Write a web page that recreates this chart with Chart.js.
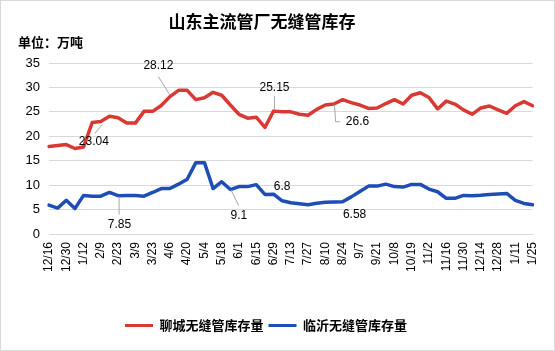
<!DOCTYPE html>
<html>
<head>
<meta charset="utf-8">
<script src="https://cdn.jsdelivr.net/npm/chart.js@4.4.1/dist/chart.umd.min.js"></script>
<style>
  html, body { margin: 0; padding: 0; background: #fff; }
  canvas { display: block; }
</style>
</head>
<body>
<canvas id="c" width="555" height="351"></canvas>
<script>
// ---- data ----
const chartTitle = "山东主流管厂无缝管库存";
const unitText = "单位：万吨";
const categories = [
  "12/16","12/23","12/30","1/6","1/12","1/19","2/9","2/16","2/23","3/2",
  "3/9","3/16","3/23","3/30","4/6","4/13","4/20","4/27","5/4","5/11",
  "5/18","5/25","6/1","6/8","6/15","6/22","6/29","7/6","7/13","7/20",
  "7/27","8/3","8/10","8/17","8/24","8/31","9/7","9/14","9/21","9/28",
  "10/8","10/12","10/19","10/26","11/2","11/9","11/16","11/23","11/30","12/7",
  "12/14","12/21","12/28","1/4","1/11","1/18","1/25"
];
const seriesNames = ["聊城无缝管库存量", "临沂无缝管库存量"];
const liaocheng = [
  17.9,18.1,18.3,17.5,17.8,22.8,23.04,24.1,23.8,22.7,
  22.7,25.1,25.1,26.3,28.12,29.4,29.4,27.5,27.9,29.0,
  28.4,26.4,24.5,23.7,23.9,21.8,25.15,25.0,25.0,24.5,
  24.3,25.5,26.4,26.6,27.5,26.9,26.4,25.7,25.8,26.7,
  27.5,26.6,28.4,28.9,27.95,25.6,27.2,26.6,25.4,24.5,
  25.8,26.2,25.4,24.7,26.25,27.1,26.25
];
const linyi = [
  5.9,5.3,6.9,5.2,7.9,7.75,7.75,8.5,7.85,7.9,
  7.9,7.75,8.5,9.3,9.3,10.2,11.2,14.6,14.6,9.3,
  10.7,9.1,9.7,9.7,10.1,8.1,8.15,6.8,6.4,6.2,
  6.0,6.3,6.5,6.55,6.58,7.6,8.7,9.8,9.8,10.2,
  9.7,9.6,10.15,10.15,9.2,8.65,7.3,7.3,7.9,7.85,
  7.95,8.1,8.2,8.3,6.9,6.25,6.0
];
const yTicks = [0, 5, 10, 15, 20, 25, 30, 35];

// labelled points: dataset index, point index (text comes from the data)
const labelledPoints = [
  {ds: 0, i: 6}, {ds: 0, i: 14}, {ds: 0, i: 26}, {ds: 0, i: 33},
  {ds: 1, i: 8}, {ds: 1, i: 21}, {ds: 1, i: 27}, {ds: 1, i: 34}
];
// placement of those labels relative to the point (pixels)
const labelPlacement = [
  {dx: -7, dy: 20, leader: [[-6, 12], [1.5, 3]]},
  {dx: -11.5, dy: -30.5, leader: [[-11.5, -20], [0, -1.5]]},
  {dx: 1, dy: -23, leader: [[1, -15], [1, -1]]},
  {dx: 23.5, dy: 17.7, leader: [[0.5, 0.5], [1.6, 17.7], [6, 17.7]]},
  {dx: 1.4, dy: 29.5, leader: [[1, 1], [1, 19]]},
  {dx: 8.5, dy: 26, leader: [[0.7, 0.5], [8.3, 16]]},
  {dx: 0, dy: -14, leader: null},
  {dx: 12, dy: 12.5, leader: null}
];

const RED = '#DA3832';
const BLUE = '#1D4EB5';
const PAD_BOTTOM = 9;

const frame = {
  id: 'frame',
  beforeDraw(chart) {
    const ctx = chart.ctx;
    ctx.save();
    ctx.fillStyle = '#fff';
    ctx.fillRect(0, 0, chart.width, chart.height);
    ctx.strokeStyle = '#d9d9d9';
    ctx.lineWidth = 1;
    ctx.strokeRect(0.5, 0.5, chart.width - 1, chart.height - 1);
    ctx.restore();
  },
  afterDraw(chart) {
    const ctx = chart.ctx;
    ctx.save();
    ctx.fillStyle = '#000';
    ctx.textBaseline = 'middle';
    ctx.textAlign = 'center';
    ctx.font = 'bold 17px "Noto Sans CJK SC"';
    ctx.fillText(chartTitle, 262, 22);
    ctx.textAlign = 'left';
    ctx.font = 'bold 13px "Noto Sans CJK SC"';
    ctx.fillText(unitText, 18, 42);
    ctx.restore();
  }
};

const dataLabels = {
  id: 'dataLabels',
  afterDatasetsDraw(chart) {
    const ctx = chart.ctx;
    ctx.save();
    labelledPoints.forEach((lp, k) => {
      const pl = labelPlacement[k];
      const el = chart.getDatasetMeta(lp.ds).data[lp.i];
      const v = chart.data.datasets[lp.ds].data[lp.i];
      if (pl.leader) {
        ctx.strokeStyle = '#a6a6a6';
        ctx.lineWidth = 1;
        ctx.beginPath();
        pl.leader.forEach((p, j) => {
          const x = el.x + p[0], y = el.y + p[1];
          if (j === 0) ctx.moveTo(x, y); else ctx.lineTo(x, y);
        });
        ctx.stroke();
      }
      ctx.fillStyle = '#000';
      ctx.font = '12px "Liberation Sans"';
      ctx.textAlign = 'center';
      ctx.textBaseline = 'middle';
      ctx.fillText(String(v), el.x + pl.dx, el.y + pl.dy);
    });
    ctx.restore();
  }
};

const legendShift = {
  id: 'legendShift',
  afterLayout(chart) {
    if (chart.legend) {
      chart.legend.left -= 3;
      chart.legend.right -= 3;
    }
  }
};

new Chart(document.getElementById('c'), {
  type: 'line',
  data: {
    labels: categories,
    datasets: [
      {label: seriesNames[0], data: liaocheng, borderColor: RED, backgroundColor: RED,
       borderWidth: 3.5, pointRadius: 0, tension: 0, borderJoinStyle: 'round', borderCapStyle: 'round'},
      {label: seriesNames[1], data: linyi, borderColor: BLUE, backgroundColor: BLUE,
       borderWidth: 3.5, pointRadius: 0, tension: 0, borderJoinStyle: 'round', borderCapStyle: 'round'}
    ]
  },
  options: {
    responsive: false,
    animation: false,
    devicePixelRatio: 1,
    layout: {padding: {top: 63, left: 0, right: 17, bottom: PAD_BOTTOM}},
    plugins: {
      title: {display: false},
      tooltip: {enabled: false},
      legend: {
        position: 'bottom',
        labels: {
          boxWidth: 28, boxHeight: 3, padding: 5, color: '#000',
          font: {family: '"Noto Sans CJK SC"', size: 13, weight: 'bold'},
          generateLabels: (chart) => Chart.defaults.plugins.legend.labels.generateLabels(chart)
            .map(l => Object.assign(l, {lineWidth: 0, fillStyle: l.strokeStyle}))
        }
      }
    },
    scales: {
      x: {
        type: 'category',
        offset: false,
        grid: {display: false, drawTicks: false},
        border: {display: true, color: '#d9d9d9'},
        ticks: {
          autoSkip: false, minRotation: 90, maxRotation: 90, padding: 8, color: '#000',
          font: {family: '"Liberation Sans"', size: 12},
          callback: function (val, idx) { return idx % 2 === 0 ? this.getLabelForValue(val) : ''; }
        },
        afterFit(scale) {
          const lg = scale.chart.legend ? scale.chart.legend.height : 0;
          scale.height = 351 - 234 - PAD_BOTTOM - lg;
        }
      },
      y: {
        min: 0, max: 35,
        grid: {color: '#d9d9d9', lineWidth: 1, drawTicks: false},
        border: {display: false},
        afterBuildTicks(scale) { scale.ticks = yTicks.map(v => ({value: v})); },
        ticks: {padding: 9, color: '#000', font: {family: '"Liberation Sans"', size: 13}},
        afterFit(scale) { scale.width = 49; }
      }
    }
  },
  plugins: [frame, dataLabels, legendShift]
});
</script>
</body>
</html>
